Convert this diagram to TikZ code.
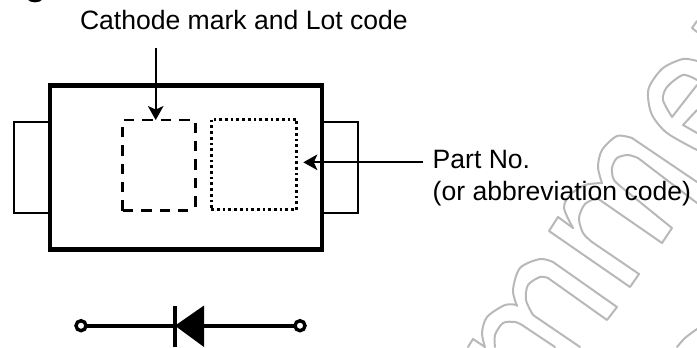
\documentclass[tikz,border=0pt]{standalone}
\usepackage{fontspec}
\setmainfont{Liberation Sans}
\usetikzlibrary{arrows.meta}
\definecolor{wm}{gray}{0.72}
\tikzset{
  x=1bp,y=-1bp,
  box/.style={rectangle,draw,inner sep=0pt,outer sep=0pt},
  bodybox/.style={box,line width=4.2bp,minimum width=272bp,minimum height=164bp},
  leadbox/.style={box,line width=2.6bp,minimum width=36bp,minimum height=91bp},
  markbox/.style={rectangle,inner sep=0pt,outer sep=0pt,minimum width=72.4bp,minimum height=90.7bp},
  markline/.style={line width=2.8bp,dash pattern=on 10.4bp off 8bp},
  dotbox/.style={box,line width=2.9bp,dash pattern=on 2.7bp off 3bp,minimum width=85.4bp,minimum height=90.7bp},
  label/.style={inner sep=0pt,outer sep=0pt,font=\fontsize{26.55bp}{31.5bp}\selectfont},
  pointer/.style={line width=2.3bp,-{Stealth[length=14bp,width=15.5bp,inset=3.5bp]}},
  wire/.style={line width=3.6bp},
  terminal/.style={circle,draw,fill=white,line width=3.4bp,minimum size=10bp,inner sep=0pt,outer sep=0pt},
  wmark/.style={draw=wm,line width=2bp,line join=round,line cap=round},
}
\begin{document}
\begin{tikzpicture}
\useasboundingbox (0,0) rectangle (697,347);
\clip (0,0) rectangle (697,347);
% watermark
\draw[wmark] (697,21) -- (692,28) -- (697,32);
\draw[wmark] plot[smooth] coordinates {(697,61) (683,59) (663,68) (650,85) (648,97) (652,115) (667,133) (697,150)};
\draw[wmark] plot[smooth] coordinates {(697,80) (683,75) (667,87) (663,100) (672,117)};
\draw[wmark] (672,117) -- (697,85);
\draw[wmark] (697,110) -- (683,125) -- (697,133);
\draw[wmark] (697,182) -- (632,138);
\draw[wmark] plot[smooth] coordinates {(632,138) (617,136) (602,150) (598,167) (602,183)};
\draw[wmark] plot[smooth] coordinates {(602,183) (585,185) (570,195) (564,208) (573,228)};
\draw[wmark] (573,228) -- (558,217) -- (549,231) -- (630,287) -- (639,274) -- (592,242);
\draw[wmark] plot[smooth] coordinates {(592,242) (583,233) (579,218) (585,204) (597,198)};
\draw[wmark] (597,198) -- (662,243) -- (672,228) -- (625,190);
\draw[wmark] plot[smooth] coordinates {(625,190) (614,180) (612,168) (617,158) (628,155) (638,158)};
\draw[wmark] (638,158) -- (697,203);
\draw[wmark] plot[smooth] coordinates {(517,306) (513,290) (520,268) (540,259) (553,262)};
\draw[wmark] (553,262) -- (617,307) -- (607,320) -- (548,278);
\draw[wmark] plot[smooth] coordinates {(548,278) (540,277) (528,285) (526,300) (533,315)};
\draw[wmark] (533,315) -- (580,347);
\draw[wmark] plot[smooth] coordinates {(517,305) (505,305) (487,317) (482,333) (485,347)};
\draw[wmark] (468,347) -- (473,339) -- (485,347);
\draw[wmark] plot[smooth] coordinates {(495,347) (495,335) (503,323) (515,322) (522,325)};
\draw[wmark] (522,325) -- (555,347);
\draw[wmark] plot[smooth] coordinates {(697,329) (685,338) (677,347)};
% fragment of a letter at the top edge
\fill (27,-1) .. controls (30,3.5) and (40,3.5) .. (43,-1) -- cycle;
% package
\node[leadbox] (leadL) at (32,167.5) {};
\node[leadbox] (leadR) at (340,167.5) {};
\node[bodybox,fill=white] (body) at (186,167.5) {};
\node[markbox] (mark) at (158.9,165.4) {};
\draw[markline] (mark.south west) -- (mark.north west) -- (mark.north east) -- (mark.south east);
\draw[markline] (mark.south west) -- (mark.south east);
\node[dotbox] (part) at (254,164.4) {};
\node[label,anchor=base west] (lotlabel) at (80,29.5) {Cathode mark and Lot code};
\node[label,anchor=west,align=left] (partlabel) at (432.7,178) {Part No.\\(or abbreviation code)};
\coordinate (lottail) at (155.7,48.3);
\coordinate (parttail) at (422.7,162.3);
\draw[pointer] (lottail) -- (lottail |- mark.north);
\draw[pointer,shorten >=6.6bp] (parttail) -- (parttail -| part.east);
% diode
\node[terminal] (anode) at (81,325.7) {};
\node[terminal] (cathode) at (300,325.7) {};
\coordinate (bar) at (175,325.7);
\coordinate (tri) at (204,325.7);
\draw[wire] (anode) -- (bar);
\draw[wire] (tri) -- (cathode);
\fill (bar) -- (204,305.5) -- (204,347) -- cycle;
\draw[line width=3.6bp] (175,306) -- (175,347);
\end{tikzpicture}
\end{document}
